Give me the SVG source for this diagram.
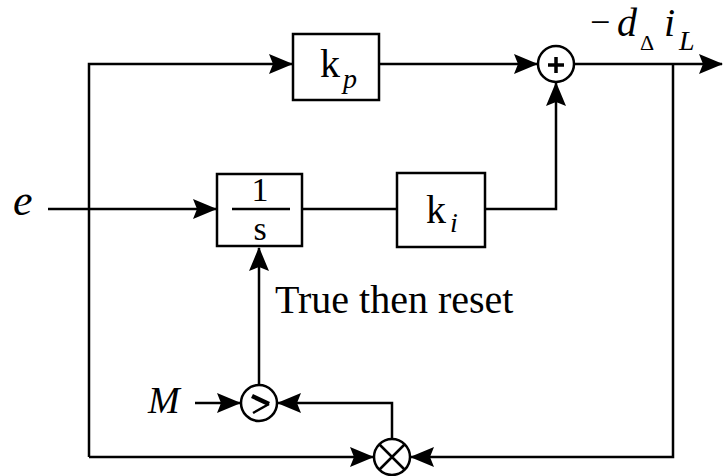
<svg xmlns="http://www.w3.org/2000/svg" width="723" height="476" viewBox="0 0 723 476">
<style>
.ln{fill:none;stroke:#000;stroke-width:2.5}
.bx{fill:#fff;stroke:#000;stroke-width:2.5}
.t{font-family:"Liberation Serif","Times New Roman",serif;fill:#000}
.i{font-style:italic}
</style>
<defs>
<marker id="ar" markerUnits="userSpaceOnUse" markerWidth="24" markerHeight="22" viewBox="0 0 24 22" refX="23" refY="11" orient="auto">
<path d="M0,1 L24,11 L0,21 L4,11 z" fill="#000"/>
</marker>
</defs>
<rect width="723" height="476" fill="#fff"/>
<g id="connectors">
<polyline class="ln" points="89,457 89,64 292,64" marker-end="url(#ar)"/>
<line class="ln" x1="379" y1="64" x2="537" y2="64" marker-end="url(#ar)"/>
<line class="ln" x1="574" y1="64" x2="722" y2="64" marker-end="url(#ar)"/>
<line class="ln" x1="48" y1="209" x2="216" y2="209" marker-end="url(#ar)"/>
<line class="ln" x1="302" y1="209" x2="397" y2="209"/>
<polyline class="ln" points="485,209 556,209 556,83" marker-end="url(#ar)"/>
<polyline class="ln" points="673,64 673,457 411,457" marker-end="url(#ar)"/>
<line class="ln" x1="89" y1="457" x2="373" y2="457" marker-end="url(#ar)"/>
<polyline class="ln" points="392,439 392,403 278,403" marker-end="url(#ar)"/>
<line class="ln" x1="195" y1="403" x2="240" y2="403" marker-end="url(#ar)"/>
<line class="ln" x1="259" y1="385" x2="259" y2="248" marker-end="url(#ar)"/>
</g>
<g id="kp">
<rect class="bx" x="293" y="34" width="86" height="66"/>
<text class="t" x="320" y="77" font-size="40">k</text>
<text class="t i" x="343" y="88" font-size="28">p</text>
</g>
<g id="sum">
<circle class="bx" cx="556" cy="64" r="18"/>
<path d="M548,65 H564 M556,57 V73" stroke="#000" stroke-width="3.5" fill="none"/>
</g>
<g id="integrator">
<rect class="bx" x="217" y="174" width="85" height="72"/>
<text class="t" x="260" y="201" font-size="34" text-anchor="middle">1</text>
<line x1="232" y1="209" x2="290" y2="209" stroke="#000" stroke-width="2.5"/>
<text class="t" x="260" y="240" font-size="34" text-anchor="middle">s</text>
</g>
<g id="ki">
<rect class="bx" x="397" y="173" width="88" height="74"/>
<text class="t" x="426" y="223" font-size="40">k</text>
<text class="t i" x="450" y="232" font-size="28">i</text>
</g>
<g id="comparator">
<circle class="bx" cx="259" cy="403" r="18"/>
<path d="M252,396 L269,404" stroke="#000" stroke-width="4.5" fill="none"/>
<path d="M269,404 L253,413" stroke="#000" stroke-width="2.5" fill="none"/>
</g>
<g id="mult">
<circle class="bx" cx="392" cy="457" r="18"/>
<path d="M379,444 L405,470 M405,444 L379,470" stroke="#000" stroke-width="2.5" fill="none"/>
</g>
<g id="labels">
<text class="t i" x="13" y="215" font-size="44">e</text>
<text class="t i" x="148" y="413" font-size="38">M</text>
<text class="t" x="275" y="313" font-size="40">True then reset</text>
<text class="t" x="590" y="34" font-size="36">−</text>
<text class="t i" x="617" y="36" font-size="40">d</text>
<text class="t" x="640" y="50" font-size="22">Δ</text>
<text class="t i" x="664" y="36" font-size="40">i</text>
<text class="t i" x="679" y="50" font-size="28">L</text>
</g>
</svg>
